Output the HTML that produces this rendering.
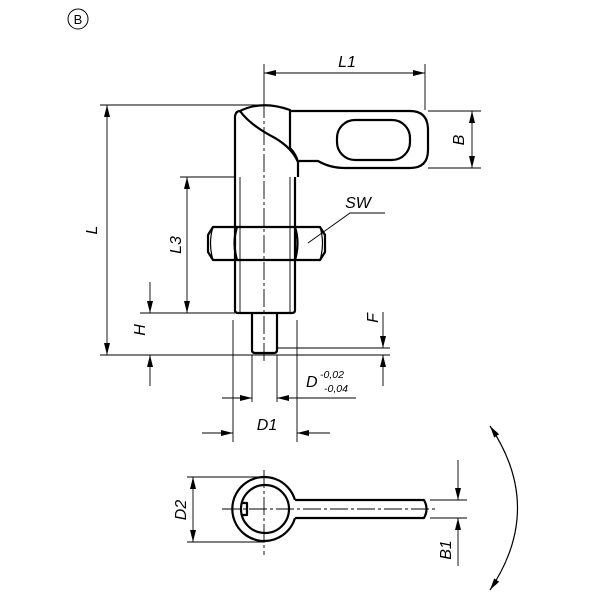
<!DOCTYPE html>
<html><head><style>body{margin:0;background:#fff}svg{display:block}text{font-family:"Liberation Sans",sans-serif;font-style:italic;fill:#000}</style></head>
<body>
<svg width="600" height="600" viewBox="0 0 600 600" xmlns="http://www.w3.org/2000/svg">
<defs>
<marker id="a" viewBox="0 0 12 6" refX="12" refY="3" markerWidth="12" markerHeight="6" orient="auto-start-reverse" markerUnits="userSpaceOnUse"><path d="M0,0L12,3L0,6z" fill="#000"/></marker>
</defs>
<circle cx="78" cy="19" r="10" fill="none" stroke="#000" stroke-width="1"/>
<text x="78" y="24" font-size="13" text-anchor="middle" style="font-style:normal">B</text>

<g fill="none" stroke="#000" stroke-width="2.2" stroke-linejoin="round">
<path d="M235,177 L235,116 Q236,111 240,111 Q262,100 290,110 L290,110 L290,148 Q296,154 298,162 L298,177"/>
<path d="M240,111 Q250,125 275,138 Q292,148 298,162"/>
<path d="M290,111 L410,111 Q428,111 428,130 L428,150 Q428,168 410,168 L345,168 Q330,168 318,161 L298,161"/>
<rect x="337" y="120" width="73" height="40" rx="18"/>
<path d="M235,177 L235,310 Q235,313 238,313 L292,313 Q295,313 295,310 L295,177"/>
<path d="M208,235 L213,227 L320,227 L325,235 L325,252 L320,260 L213,260 L208,252 Z"/>
<path d="M237,227 Q232,243 237,260 M295,227 Q300,243 295,260"/>
<path d="M213,227 Q208,243 213,260 M320,227 Q325,243 320,260" stroke-width="1.2"/>
<path d="M252,313 L252,350 Q252,353 255,353 L274,353 Q277,353 277,350 L277,313"/>
<path d="M295,500 A32,32 0 1 0 295,518"/>
<path d="M295,500 L424,500 Q429,509 424,518 L295,518"/>
<circle cx="265" cy="509" r="24"/>
<path d="M241,503 L247,503 L247,515 L241,515"/>
<path d="M490,426 Q545,508 490,590" stroke-width="1.2" marker-start="url(#a)" marker-end="url(#a)"/>
</g>
<g stroke="#000" stroke-width="0.9" fill="none">
<path d="M264,100 L264,362 M264,470 L264,555 M222,509 L435,509" stroke-dasharray="18,3,3,3"/>
<path d="M240,177 L240,313 M290,177 L290,313 M240,227 L240,260"/>
<path d="M264,64 L264,100 M425,64 L425,110"/>
<path d="M264,73 L425,73" marker-start="url(#a)" marker-end="url(#a)"/>
<path d="M100,105 L262,105 M100,355 L390,355 M428,111 L481,111 M428,168 L481,168"/>
<path d="M107,105 L107,355" marker-start="url(#a)" marker-end="url(#a)"/>
<path d="M472,111 L472,168" marker-start="url(#a)" marker-end="url(#a)"/>
<path d="M180,177 L235,177 M140,313 L235,313"/>
<path d="M187,177 L187,313" marker-start="url(#a)" marker-end="url(#a)"/>
<path d="M150,282 L150,313" marker-end="url(#a)"/><path d="M150,386 L150,355" marker-end="url(#a)"/>
<path d="M277,348 L390,348"/>
<path d="M383,312 L383,348" marker-end="url(#a)"/><path d="M383,386 L383,355" marker-end="url(#a)"/>
<path d="M252,355 L252,402 M277,355 L277,402 M233,320 L233,442 M297,320 L297,442"/>
<path d="M222,398 L252,398" marker-end="url(#a)"/><path d="M356,398 L277,398" marker-end="url(#a)"/>
<path d="M202,433 L233,433" marker-end="url(#a)"/><path d="M330,433 L297,433" marker-end="url(#a)"/>
<path d="M308,243 L350,213 L385,213"/>
<path d="M187,477 L265,477 M187,542 L265,542"/>
<path d="M193,477 L193,542" marker-start="url(#a)" marker-end="url(#a)"/>
<path d="M430,500 L467,500 M430,518 L467,518"/>
<path d="M458,460 L458,500" marker-end="url(#a)"/><path d="M458,566 L458,518" marker-end="url(#a)"/>
</g>
<g font-size="16">
<text x="347" y="67" text-anchor="middle">L1</text>
<text x="358" y="208" text-anchor="middle">SW</text>
<text x="267" y="430" text-anchor="middle">D1</text>
<text x="306" y="387">D</text>
<text x="320" y="378" font-size="10.5">-0,02</text>
<text x="324" y="392" font-size="10.5">-0,04</text>
<text transform="translate(97,230) rotate(-90)" text-anchor="middle">L</text>
<text transform="translate(181,245) rotate(-90)" text-anchor="middle">L3</text>
<text transform="translate(145,330) rotate(-90)" text-anchor="middle">H</text>
<text transform="translate(378,318) rotate(-90)" text-anchor="middle">F</text>
<text transform="translate(464,140) rotate(-90)" text-anchor="middle">B</text>
<text transform="translate(186,510) rotate(-90)" text-anchor="middle">D2</text>
<text transform="translate(451,550) rotate(-90)" text-anchor="middle">B1</text>
</g>
</svg>
</body></html>
